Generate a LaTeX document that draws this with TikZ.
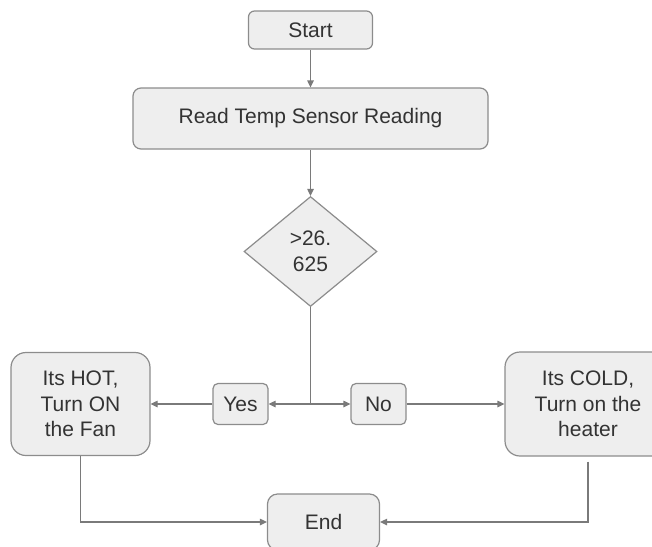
\documentclass[tikz,border=0pt]{standalone}
\usepackage{fontspec}
\setmainfont{Liberation Sans}
\usetikzlibrary{shapes.geometric,arrows.meta}
\definecolor{boxfill}{HTML}{EEEEEE}
\definecolor{boxdraw}{HTML}{8C8C8C}
\definecolor{linec}{HTML}{7A7A7A}
\definecolor{txt}{HTML}{333333}
\begin{document}
\begin{tikzpicture}[x=1pt,y=-1pt,
  box/.style={draw=boxdraw, fill=boxfill, line width=1.2pt, text=txt,
    font=\fontsize{21}{25.5}\selectfont, align=center, inner sep=0pt},
  conn/.style={draw=linec, line width=1.2pt, -{Triangle[length=7pt,width=6.5pt]}},
  plainline/.style={draw=linec, line width=1.2pt}]
\useasboundingbox (0,0) rectangle (652,546);
\clip (0,0) rectangle (652,546);
\node[box, rounded corners=6pt, minimum width=124pt, minimum height=38pt] (start) at (310.5,30) {Start};
\node[box, rounded corners=8pt, minimum width=355pt, minimum height=61pt] (read) at (310.5,118.5) {Read Temp Sensor Reading};
\node[box, diamond, aspect=1.2, minimum width=133pt, minimum height=110pt] (dec) at (310.5,251.5) {>26.\\625};
\node[box, rounded corners=5pt, minimum width=55pt, minimum height=41pt] (yes) at (240.5,404) {Yes};
\node[box, rounded corners=5pt, minimum width=55pt, minimum height=41pt] (no) at (378.5,404) {No};
\node[box, rounded corners=15pt, minimum width=139pt, minimum height=103pt] (hot) at (80.5,404) {Its HOT,\\Turn ON\\the Fan};
\node[box, rounded corners=15pt, minimum width=166pt, minimum height=104pt] (cold) at (588,404) {Its COLD,\\Turn on the\\heater};
\node[box, rounded corners=10pt, minimum width=112pt, minimum height=56pt] (end) at (323.5,522) {End};
\coordinate (j) at (dec.south |- yes.east);
\draw[conn] (start) -- (read);
\draw[conn] (read) -- (dec);
\draw[plainline] (dec.south) -- (j);
\draw[conn] (j) -- (yes.east);
\draw[conn] (j) -- (no.west);
\draw[conn] (yes) -- (hot);
\draw[conn] (no) -- (cold);
\draw[conn] (hot.south) |- (end.west);
\draw[conn, shorten <=5pt] (cold.south) |- (end.east);
\end{tikzpicture}
\end{document}
